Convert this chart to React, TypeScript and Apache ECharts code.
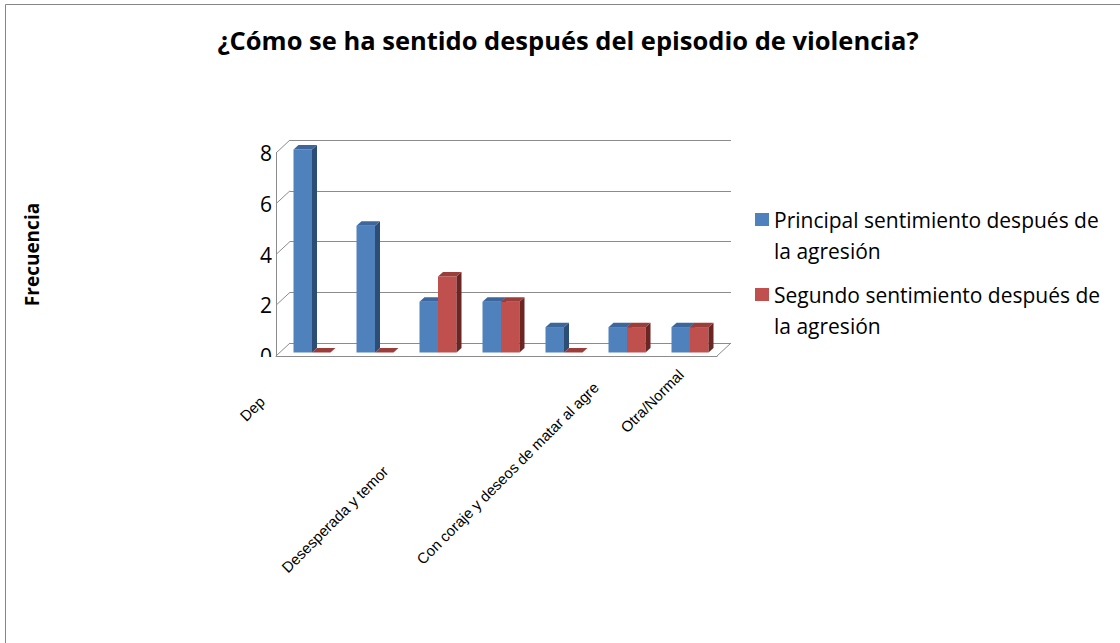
import React, { useEffect, useRef } from "react";
import * as echarts from "echarts";

// ---- data ----
const categories = [
  "Deprimida",
  "Categoría 2",
  "Desesperada y temor",
  "Categoría 4",
  "Con coraje y deseos de matar al agresor",
  "Categoría 6",
  "Otra/Normal",
];
// visible (clipped) tick label texts as in the picture
const tickLabels = ["Dep", "", "Desesperada y temor", "", "Con coraje y deseos de matar al agre", "", "Otra/Normal"];
const principal = [8, 5, 2, 2, 1, 1, 1];
const segundo = [0, 0, 3, 2, 0, 1, 1];
const seriesNames = [
  "Principal sentimiento después de la agresión",
  "Segundo sentimiento después de la agresión",
];
const yTicks = [0, 2, 4, 6, 8];
const titleText = "¿Cómo se ha sentido después del episodio de violencia?";
const yAxisTitle = "Frecuencia";

// ---- styling ----
const BLUE = { front: "#4F81BD", top: "#3D679C", side: "#2C4D75" };
const RED = { front: "#C0504D", top: "#9B3E3B", side: "#6B2624" };
const GRID_COLOR = "#8C8C8C";
const WALL_DX = 14;
const WALL_DY = -13;
const BAR_SHIFT_X = 4.5;
const BAR_SHIFT_Y = -3.5;
const BAR_DX = 5;
const BAR_DY = -4.5;
const BAR_RATIO = 18.5 / 63;

// per-label placement (rich padding) to follow the picture
const labelRich: Record<string, any> = {
  l0: { padding: [9, 69, 0, 0] },
  l2: { padding: [104, 120, 0, 0] },
  l4: { padding: [105, 1, 0, 0] },
  l6: { padding: [29, 21, 0, 0] },
};

function makeBarRenderer(k: number, colors: { front: string; top: string; side: string }) {
  return (params: any, api: any) => {
    const i = api.value(0);
    const v = api.value(1);
    const band = api.size([1, 0])[0];
    const bw = band * BAR_RATIO;
    const base = api.coord([i, 0]);
    const top = api.coord([i, v]);
    const xL = base[0] - bw + k * bw + BAR_SHIFT_X;
    const xR = xL + bw;
    const yB = base[1] + BAR_SHIFT_Y;
    const yT = top[1] + BAR_SHIFT_Y;
    return {
      type: "group",
      children: [
        {
          type: "rect",
          shape: { x: xL, y: yT, width: bw, height: yB - yT },
          style: { fill: colors.front },
        },
        {
          type: "polygon",
          shape: {
            points: [
              [xR, yT],
              [xR, yB],
              [xR + BAR_DX, yB + BAR_DY],
              [xR + BAR_DX, yT + BAR_DY],
            ],
          },
          style: { fill: colors.side },
        },
        {
          type: "polygon",
          shape: {
            points: [
              [xL, yT],
              [xR, yT],
              [xR + BAR_DX, yT + BAR_DY],
              [xL + BAR_DX, yT + BAR_DY],
            ],
          },
          style: { fill: colors.top },
        },
      ],
    };
  };
}

function frameRenderer(params: any, api: any) {
  const v = api.value(1);
  const cs = params.coordSys;
  const y = api.coord([0, v])[1];
  const children: any[] = [
    {
      type: "line",
      shape: { x1: cs.x, y1: y, x2: cs.x + WALL_DX, y2: y + WALL_DY },
      style: { stroke: GRID_COLOR, lineWidth: 1 },
    },
  ];
  if (v === 0) {
    children.push({
      type: "line",
      shape: { x1: cs.x + cs.width, y1: y, x2: cs.x + cs.width + WALL_DX, y2: y + WALL_DY },
      style: { stroke: GRID_COLOR, lineWidth: 1 },
    });
  }
  return { type: "group", children };
}

export default function App() {
  const ref = useRef<HTMLDivElement>(null);
  useEffect(() => {
    if (!ref.current) return;
    const chart = echarts.init(ref.current, null, { renderer: "svg" });
    chart.setOption({
      animation: false,
      backgroundColor: "#ffffff",
      title: {
        text: titleText,
        left: 563,
        textAlign: "center",
        top: 22,
        textStyle: { fontFamily: "Open Sans", fontWeight: "bold", fontSize: 25.5, color: "#000" },
      },
      legend: {
        data: seriesNames,
        orient: "vertical",
        left: 755,
        top: 173,
        padding: 0,
        itemGap: -18,
        itemWidth: 14,
        itemHeight: 13,
        icon: "rect",
        formatter: (name: string) => "\n" + name.replace(/ (la agresión)$/, "\n$1"),
        textStyle: {
          fontFamily: "Open Sans",
          fontSize: 21,
          lineHeight: 31,
          color: "#000",
        },
      },
      grid: [
        { left: 290, top: 140, right: 389, bottom: 300 },
        { left: 276, top: 153, right: 403, bottom: 287 },
      ],
      xAxis: [
        { type: "category", gridIndex: 0, data: categories, show: false },
        {
          type: "category",
          gridIndex: 1,
          data: categories,
          axisLine: { show: true, lineStyle: { color: GRID_COLOR } },
          axisTick: { show: false },
          axisLabel: {
            interval: 1,
            rotate: 45,
            margin: -9,
            fontFamily: "Liberation Sans",
            fontSize: 15,
            color: "#000",
            formatter: (value: string, index: number) => `{l${index}|${tickLabels[index]}}`,
            rich: labelRich,
          },
        },
      ],
      yAxis: [
        {
          type: "value",
          gridIndex: 0,
          min: 0,
          max: 8,
          interval: 2,
          axisLine: { show: false },
          axisTick: { show: false },
          axisLabel: { show: false },
          splitLine: { show: true, lineStyle: { color: GRID_COLOR, width: 1 } },
        },
        {
          type: "value",
          gridIndex: 1,
          min: 0,
          max: 8,
          interval: 2,
          name: yAxisTitle,
          nameLocation: "middle",
          nameGap: 235,
          nameTextStyle: { fontFamily: "Open Sans", fontWeight: "bold", fontSize: 19, color: "#000" },
          axisLine: { show: true, lineStyle: { color: GRID_COLOR } },
          axisTick: { show: false },
          splitLine: { show: false },
          axisLabel: { margin: 4, fontFamily: "Open Sans", fontSize: 21, color: "#000" },
        },
      ],
      series: [
        {
          type: "custom",
          name: "frame",
          xAxisIndex: 1,
          yAxisIndex: 1,
          data: yTicks.map((t) => [0, t]),
          renderItem: frameRenderer,
          silent: true,
          z: 1,
        },
        {
          type: "custom",
          name: seriesNames[0],
          xAxisIndex: 1,
          yAxisIndex: 1,
          itemStyle: { color: BLUE.front },
          data: principal.map((v, i) => [i, v]),
          renderItem: makeBarRenderer(0, BLUE),
          z: 3,
        },
        {
          type: "custom",
          name: seriesNames[1],
          xAxisIndex: 1,
          yAxisIndex: 1,
          itemStyle: { color: RED.front },
          data: segundo.map((v, i) => [i, v]),
          renderItem: makeBarRenderer(1, RED),
          z: 4,
        },
      ],
      graphic: [
        {
          type: "rect",
          shape: { x: 5.5, y: 4.5, width: 1300, height: 800 },
          style: { fill: "none", stroke: "#868686", lineWidth: 1 },
          silent: true,
        },
        {
          type: "rect",
          shape: { x: 245, y: 357, width: 29, height: 14 },
          style: { fill: "#ffffff" },
          z: 100,
          silent: true,
        },
      ],
    });
    return () => chart.dispose();
  }, []);
  return (
    <div
      ref={ref}
      style={{ position: "fixed", left: 0, top: 0, width: 1120, height: 643 }}
    />
  );
}
